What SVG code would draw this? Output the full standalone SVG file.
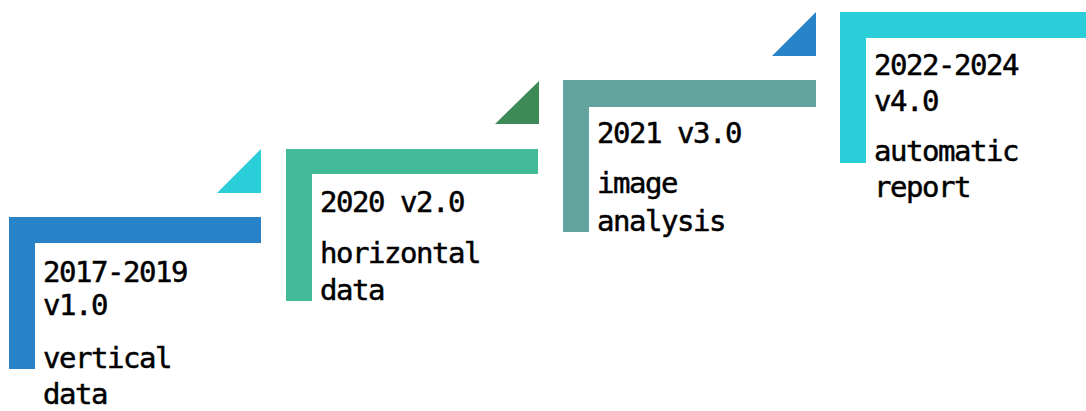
<svg xmlns="http://www.w3.org/2000/svg" width="1086" height="411" viewBox="0 0 1086 411">
  <style>
    .t { font-family: "DejaVu Sans Mono", "Liberation Mono", monospace; font-size: 29px; fill: #000; stroke: #000; stroke-width: 0.5px; letter-spacing: -1.45px; }
    .blue { fill: #2882C8; }
    .green { fill: #43BA98; }
    .teal { fill: #62A39E; }
    .cyan { fill: #29CED8; }
    .dkgreen { fill: #3E8A57; }
  </style>
  <rect width="1086" height="411" fill="#fff"/>

  <!-- corner triangles between steps -->
  <g id="connectors">
    <polygon class="cyan" points="217,193 261,193 261,149"/>
    <polygon class="dkgreen" points="495,124 539,124 539,81"/>
    <polygon class="blue" points="772,56 816,56 816,12"/>
  </g>

  <g id="step1">
    <path class="blue" d="M9,217 H261 V243 H35 V369 H9 Z"/>
    <text class="t" x="43" y="282">2017-2019</text>
    <text class="t" x="43" y="315">v1.0</text>
    <text class="t" x="43" y="368">vertical</text>
    <text class="t" x="43" y="404">data</text>
  </g>

  <g id="step2">
    <path class="green" d="M286,149 H538 V174 H312 V301 H286 Z"/>
    <text class="t" x="320" y="212">2020 v2.0</text>
    <text class="t" x="320" y="263">horizontal</text>
    <text class="t" x="320" y="300">data</text>
  </g>

  <g id="step3">
    <path class="teal" d="M563,80 H816 V107 H589 V232 H563 Z"/>
    <text class="t" x="597" y="143">2021 v3.0</text>
    <text class="t" x="597" y="193">image</text>
    <text class="t" x="597" y="231">analysis</text>
  </g>

  <g id="step4">
    <path class="cyan" d="M840,12 H1086 V38 H866 V163 H840 Z"/>
    <text class="t" x="874" y="75">2022-2024</text>
    <text class="t" x="874" y="111">v4.0</text>
    <text class="t" x="874" y="161">automatic</text>
    <text class="t" x="874" y="197">report</text>
  </g>
</svg>
